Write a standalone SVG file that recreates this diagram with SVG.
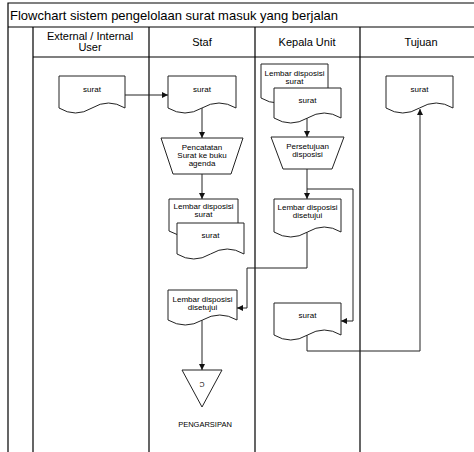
<svg xmlns="http://www.w3.org/2000/svg" width="474" height="452" viewBox="0 0 474 452">
<style>
.frame{fill:none;stroke:#000;stroke-width:1.2}
.shape{fill:#fff;stroke:#222;stroke-width:1}
.conn{fill:none;stroke:#222;stroke-width:1}
.t{font-family:"Liberation Sans",Arial,sans-serif;fill:#000;text-anchor:middle}
.s{font-size:8px}
.h{font-size:11px}
</style>
<defs>
<marker id="arr" markerUnits="userSpaceOnUse" markerWidth="7" markerHeight="7" refX="6" refY="3" orient="auto">
<path d="M0,0 L6,3 L0,6 Z" fill="#111"/>
</marker>
</defs>
<rect width="474" height="452" fill="#fff"/>
<g id="frame">
<path class="frame" d="M8 452 V3 H474 M8 27 H474 M33 57 H474 M33 27 V452 M149 27 V452 M255 27 V452 M360 27 V452"/>
<text x="10" y="20" style="font-family:'Liberation Sans',Arial,sans-serif;font-size:13px">Flowchart sistem pengelolaan surat masuk yang berjalan</text>
<text class="t h" x="90" y="40">External / Internal</text>
<text class="t h" x="90" y="51">User</text>
<text class="t h" x="202" y="46">Staf</text>
<text class="t h" x="307" y="46">Kepala Unit</text>
<text class="t h" x="421" y="46">Tujuan</text>
</g>
<g id="connectors">
<path class="conn" d="M125 95 H168" marker-end="url(#arr)"/>
<path class="conn" d="M202 108 V138" marker-end="url(#arr)"/>
<path class="conn" d="M202 174 V199" marker-end="url(#arr)"/>
<path class="conn" d="M307 118 V137" marker-end="url(#arr)"/>
<path class="conn" d="M307 169 V199" marker-end="url(#arr)"/>
<path class="conn" d="M307 189 H353 V321 H341" marker-end="url(#arr)"/>
<path class="conn" d="M307 232 V268 H247 V308 H237" marker-end="url(#arr)"/>
<path class="conn" d="M202 320 V370" marker-end="url(#arr)"/>
<path class="conn" d="M307 335 V351 H420 V109" marker-end="url(#arr)"/>
</g>
<g id="surat-user">
<path class="shape" d="M59 76 H125 V108 Q108.5 98 92 108 T59 108 Z"/>
<text class="t s" x="92" y="92">surat</text>
</g>
<g id="surat-staf">
<path class="shape" d="M168 76 H236 V108 Q219 98 202 108 T168 108 Z"/>
<text class="t s" x="202" y="92">surat</text>
</g>
<g id="pencatatan">
<path class="shape" d="M161 138 H243 L231 174 H173 Z"/>
<text class="t s" x="202" y="150">Pencatatan</text>
<text class="t s" x="202" y="158">Surat ke buku</text>
<text class="t s" x="202" y="166">agenda</text>
</g>
<g id="disposisi-staf">
<path class="shape" d="M169 199 H238 V231 Q220.75 221 203.5 231 T169 231 Z"/>
<text class="t s" x="203.5" y="209">Lembar disposisi</text>
<text class="t s" x="203.5" y="217">surat</text>
<path class="shape" d="M177 223 H244 V254 Q227.25 244 210.5 254 T177 254 Z"/>
<text class="t s" x="210.5" y="238">surat</text>
</g>
<g id="disposisi-kepala">
<path class="shape" d="M261 64 H328 V98 Q311.25 88 294.5 98 T261 98 Z"/>
<text class="t s" x="294.5" y="76">Lembar disposisi</text>
<text class="t s" x="294.5" y="84">surat</text>
<path class="shape" d="M274 88 H341 V118 Q324.25 108 307.5 118 T274 118 Z"/>
<text class="t s" x="307.5" y="103">surat</text>
</g>
<g id="persetujuan">
<path class="shape" d="M271 137 H344 L332 169 H283 Z"/>
<text class="t s" x="307.5" y="149">Persetujuan</text>
<text class="t s" x="307.5" y="157">disposisi</text>
</g>
<g id="disetujui-kepala">
<path class="shape" d="M274 199 H341 V232 Q324.25 222 307.5 232 T274 232 Z"/>
<text class="t s" x="307.5" y="210">Lembar disposisi</text>
<text class="t s" x="307.5" y="218">disetujui</text>
</g>
<g id="surat-kepala">
<path class="shape" d="M274 303 H341 V335 Q324.25 325 307.5 335 T274 335 Z"/>
<text class="t s" x="307.5" y="318">surat</text>
</g>
<g id="surat-tujuan">
<path class="shape" d="M386 76 H453 V108 Q436.25 98 419.5 108 T386 108 Z"/>
<text class="t s" x="419.5" y="92">surat</text>
</g>
<g id="disetujui-staf">
<path class="shape" d="M168 290 H237 V320 Q219.75 310 202.5 320 T168 320 Z"/>
<text class="t s" x="202.5" y="302">Lembar disposisi</text>
<text class="t s" x="202.5" y="310">disetujui</text>
</g>
<g id="pengarsipan">
<path class="shape" d="M182 370 H222 L202 407 Z"/>
<text class="t" x="202" y="378" style="font-size:7px" transform="rotate(180 202 380)">C</text>
<text class="t" x="205" y="427" style="font-size:7.5px">PENGARSIPAN</text>
</g>
</svg>
